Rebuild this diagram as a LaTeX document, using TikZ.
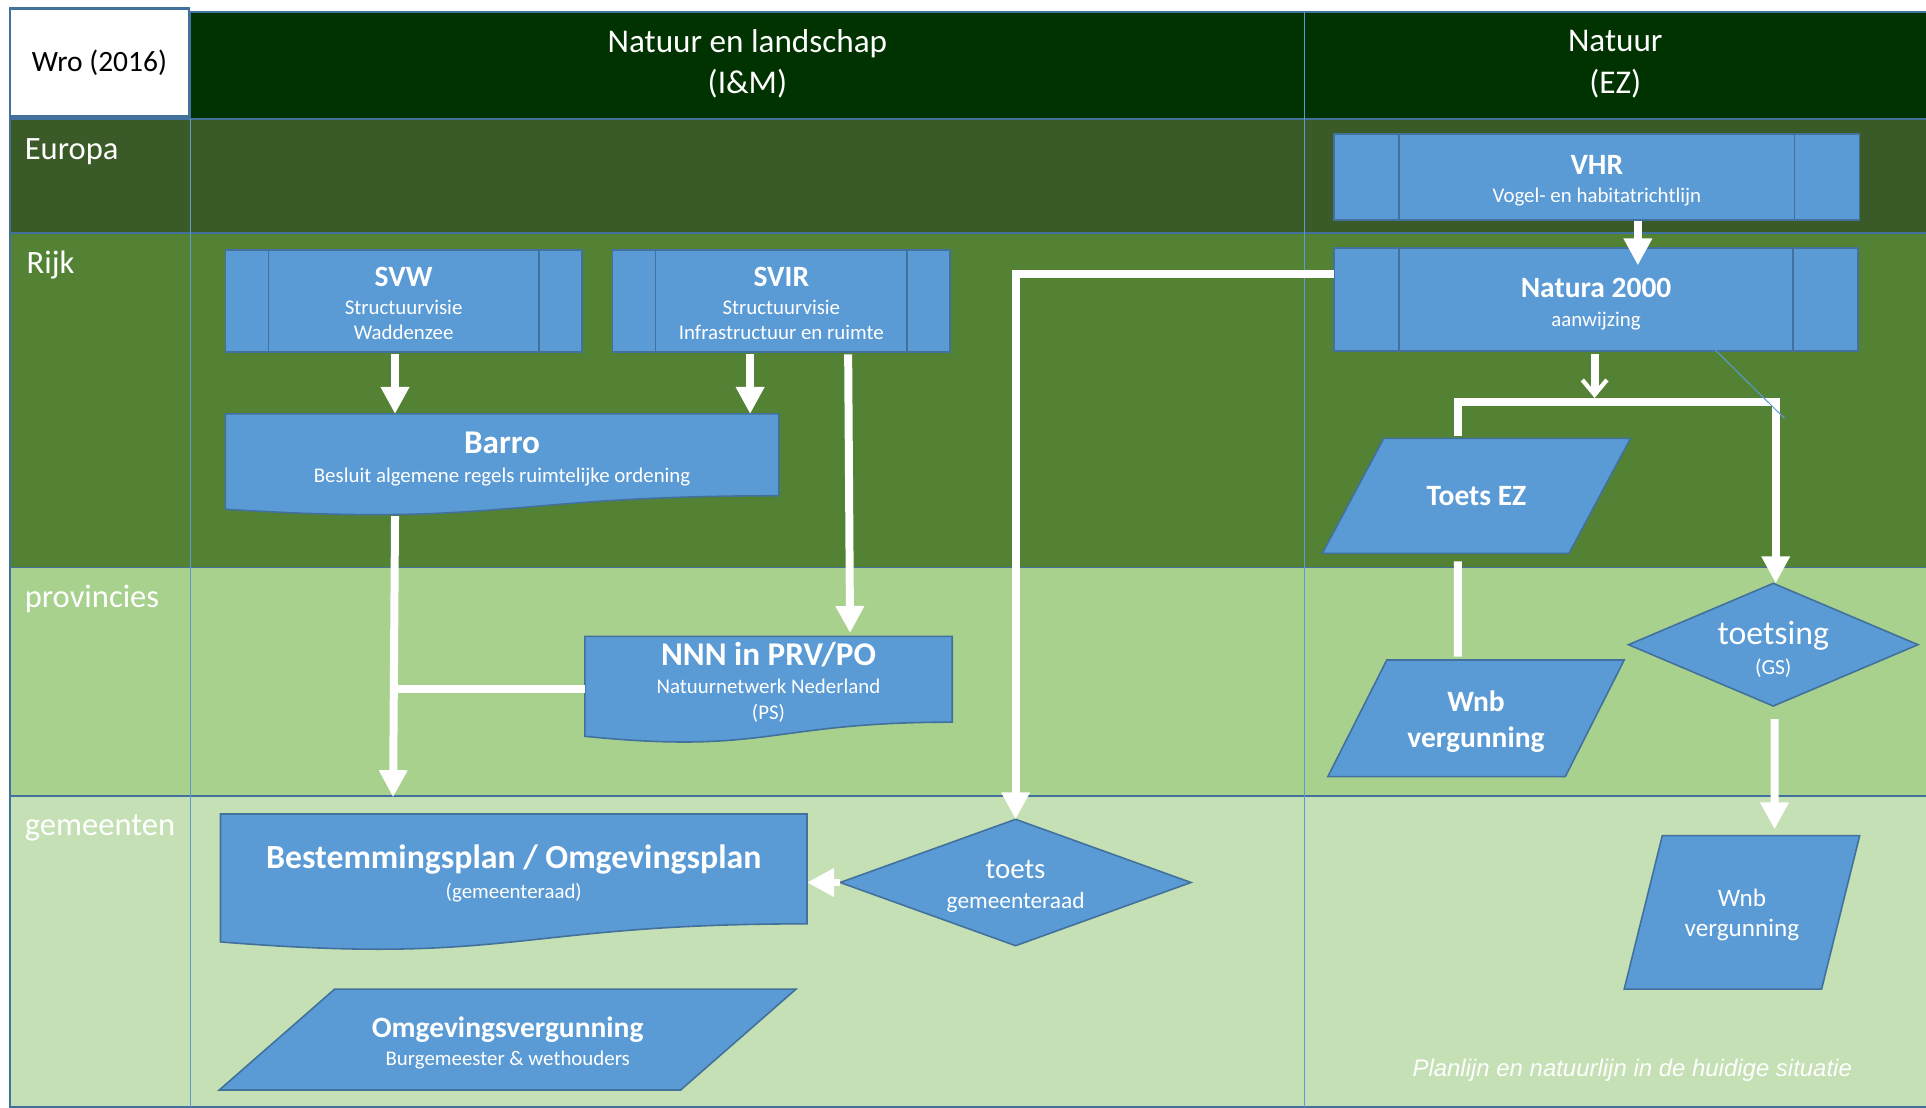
\documentclass[tikz,border=0pt]{standalone}
\usepackage{fontspec}
\setmainfont{Carlito}
\newfontfamily\capfont{Liberation Sans}
\usetikzlibrary{arrows.meta,calc}
\pgfdeclarelayer{lanes}
\pgfdeclarelayer{shapes}
\pgfsetlayers{lanes,shapes,main}
\definecolor{hdr}{HTML}{003300}
\definecolor{eur}{HTML}{3A5A27}
\definecolor{rijk}{HTML}{548235}
\definecolor{prov}{HTML}{A9D18E}
\definecolor{gem}{HTML}{C5E0B4}
\definecolor{nfill}{HTML}{5B9BD5}
\definecolor{nline}{HTML}{41719C}
\definecolor{lline}{HTML}{5B9BD5}
\newcommand\myfs[2]{\fontsize{#1}{#2}\selectfont}
\newcommand\tb[2]{\normalfont\bfseries\fontsize{#1}{#2}\selectfont}
\newcommand\tr[2]{\normalfont\fontsize{#1}{#2}\selectfont}
\newcommand\up[1]{\rule{0pt}{#1pt}}
\newcommand\mydocshape[1]{%
  \begin{pgfonlayer}{shapes}
    \filldraw[shapefill] (#1.north west) -- (#1.north east) -- (#1.south east)
      .. controls (#1.south) and ($(#1.north)!1.381!(#1.south)$)
      .. ($(#1.north west)!1.1646!(#1.south west)$) -- cycle;
  \end{pgfonlayer}}
\newcommand\myparagram[2]{%
  \begin{pgfonlayer}{shapes}
    \filldraw[shapefill] (#1.south west) -- ([xshift=#2]#1.north west) -- (#1.north east) -- ([xshift=-#2]#1.south east) -- cycle;
  \end{pgfonlayer}}
\newcommand\mydiamond[1]{%
  \begin{pgfonlayer}{shapes}
    \filldraw[shapefill] (#1.north) -- (#1.east) -- (#1.south) -- (#1.west) -- cycle;
  \end{pgfonlayer}}
\tikzset{
  band/.style={draw=nline, line width=1.5pt},
  shapefill/.style={fill=nfill, draw=nline, line width=1.3pt, line join=miter},
  predef/.style={rectangle, fill=nfill, draw=nline, line width=1.3pt, inner sep=0pt, outer sep=0pt,
    text=white, align=center,
    path picture={\draw[nline, line width=1.3pt]
      ([xshift=#1]path picture bounding box.north west) -- ([xshift=#1]path picture bounding box.south west)
      ([xshift=-#1]path picture bounding box.north east) -- ([xshift=-#1]path picture bounding box.south east);}},
  shapebox/.style={rectangle, draw=none, inner sep=0pt, outer sep=0pt, text=white, align=center},
  lanelabel/.style={anchor=base west, text=white, inner sep=0pt, font=\myfs{26.5}{32}},
  hdrtext/.style={text=white, align=center, inner sep=0pt, font=\myfs{27}{34}},
  wline/.style={draw=white, line width=6.5pt},
  arr/.style={wline, -{Triangle[length=22pt, width=22pt]}},
  barb/.style={wline, -{Straight Barb[length=12pt, width=20pt, line width=3.5pt]}},
}
\begin{document}
\begin{tikzpicture}[x=1pt,y=-1pt]
\useasboundingbox (0,0) rectangle (1568,902);
\begin{pgfonlayer}{lanes}
  \fill[white] (0,0) rectangle (1568,902);
  \filldraw[band, fill=hdr] (155,10) rectangle (1590,97);
  \filldraw[band, fill=eur] (8,97) rectangle (1590,190);
  \filldraw[band, fill=rijk] (8,190) rectangle (1590,462);
  \filldraw[band, fill=prov] (8,462) rectangle (1590,648);
  \filldraw[band, fill=gem] (8,648) rectangle (1590,901);
  \draw[lline, line width=0.8pt] (155,97) -- (155,901);
  \draw[lline, line width=0.8pt] (1062,10) -- (1062,901);
\end{pgfonlayer}

% header
\node[draw=nline, line width=2pt, fill=white, minimum width=146pt, minimum height=88pt,
  inner sep=0pt, font=\myfs{24}{29}] (wro) at (81,51) {Wro (2016)};
\node[hdrtext] (hdrIM) at (608.5,52) {Natuur en landschap\\(I\&M)};
\node[hdrtext] (hdrEZ) at (1315,52) {Natuur\\(EZ)};

% lane labels
\node[lanelabel] (lEuropa) at (20,130) {Europa};
\node[lanelabel] (lRijk) at (21.5,222.5) {Rijk};
\node[lanelabel] (lProv) at (20,494.5) {provincies};
\node[lanelabel] (lGem) at (20,680) {gemeenten};

% Europa / Rijk boxes
\node[predef=53pt, minimum width=428pt, minimum height=70pt, font=\myfs{17}{23}] (vhr) at (1300,144)
  {\tb{24}{23}\up{21.5}VHR\\\tr{17}{23}Vogel- en habitatrichtlijn};
\node[predef=53pt, minimum width=426.7pt, minimum height=83.5pt, font=\myfs{17}{23}] (natura) at (1299.4,243.8)
  {\tb{24}{23}\up{23.5}Natura 2000\\\tr{17}{23}aanwijzing};
\node[predef=35pt, minimum width=290pt, minimum height=83pt, font=\myfs{17}{20.5}] (svw) at (328.6,245)
  {\tb{24}{20.5}\up{19.5}SVW\\[2.5pt]\tr{17}{20.5}Structuurvisie\\\tr{17}{20.5}Waddenzee};
\node[predef=35pt, minimum width=275pt, minimum height=83pt, font=\myfs{17}{20.5}] (svir) at (636.1,245)
  {\tb{24}{20.5}\up{19.5}SVIR\\[2.5pt]\tr{17}{20.5}Structuurvisie\\\tr{17}{20.5}Infrastructuur en ruimte};

% document shapes
\node[shapebox, minimum width=450.5pt, minimum height=66.6pt, font=\myfs{17}{24}] (barro) at (408.75,370.3)
  {\tb{27}{24}\up{24.4}Barro\\\tr{17}{24}Besluit algemene regels ruimtelijke ordening};
\mydocshape{barro}
\node[shapebox, minimum width=299.1pt, minimum height=68.2pt, font=\myfs{17}{21}] (nnn) at (625.65,553)
  {\tb{27}{21}\up{24}NNN in PRV/PO\\[1.5pt]\tr{17}{21}Natuurnetwerk Nederland\\\tr{17}{21}(PS)};
\mydocshape{nnn}
\node[shapebox, minimum width=477.5pt, minimum height=89.4pt, font=\myfs{17}{24}] (bestem) at (418.25,707.4)
  {\tb{27.5}{24}\up{26.3}Bestemmingsplan / Omgevingsplan\\\tr{17}{24}(gemeenteraad)};
\mydocshape{bestem}

% parallelograms
\node[shapebox, minimum width=250.9pt, minimum height=93.6pt, font=\tb{24}{29}] (toetsez) at (1201.95,403.7)
  {Toets EZ};
\myparagram{toetsez}{50pt}
\node[shapebox, minimum width=241.3pt, minimum height=95pt, font=\myfs{24}{29.3}] (wnb) at (1201.65,584.8)
  {\tb{24}{29.3}\up{21.8}Wnb\\\tb{24}{29.3}vergunning};
\myparagram{wnb}{48pt}
\node[shapebox, minimum width=191.7pt, minimum height=124.9pt, font=\myfs{20.5}{25}] (wnbr) at (1418.15,742.75)
  {\tr{20.5}{25}\up{18.4}Wnb\\\tr{20.5}{25}vergunning};
\myparagram{wnbr}{31pt}
\node[shapebox, minimum width=469.6pt, minimum height=82.2pt, font=\myfs{17}{23}] (omgv) at (413.3,846.3)
  {\tb{24}{23}\up{21.8}Omgevingsvergunning\\\tr{17}{23}Burgemeester \& wethouders};
\myparagram{omgv}{94pt}

% diamonds
\node[shapebox, minimum width=235.7pt, minimum height=99.9pt, font=\myfs{17.5}{24.5}] (toetsing) at (1443.65,524.85)
  {\tr{27.5}{24.5}\up{26.4}toetsing\\\tr{17.5}{24.5}(GS)};
\mydiamond{toetsing}
\node[shapebox, minimum width=285.6pt, minimum height=102.9pt, font=\myfs{19}{24.5}] (toets) at (826.8,718.45)
  {\tr{23.5}{24.5}\up{21.1}toets\\\tr{19}{24.5}gemeenteraad};
\mydiamond{toets}

% caption
\node[font=\capfont\itshape\myfs{19.5}{23}, text=white, anchor=base, inner sep=0pt] (caption) at (1328.85,876)
  {Planlijn en natuurlijn in de huidige situatie};

% helper coordinates
\coordinate (join) at (320.8,561.2);
\coordinate (split) at (1298.2,327);
\coordinate (strayend) at (1452.8,340.6);

% connectors
\draw[arr] ([xshift=-7pt,yshift=-2pt]svw.south) -- ([xshift=-7pt]svw.south |- barro.north);
\draw[arr] ([xshift=-25.4pt,yshift=-2pt]svir.south) -- ([xshift=-25.4pt]svir.south |- barro.north);
\draw[arr] ([xshift=54.4pt,yshift=-2pt]svir.south) -- ([xshift=66.4pt,yshift=2.7pt]nnn.north);
\draw[arr] ([xshift=-87.15pt,yshift=-16.5pt]barro.south) -- ([xshift=-98.25pt,yshift=13.7pt]bestem.north);
\draw[wline] ([yshift=-8.2pt]nnn.west) -- (join);
\draw[arr] ([yshift=20.8pt]natura.west) -| (toets.north);
\draw[arr] (toets.west) -- (toets.west -| bestem.east);
\draw[arr] ([xshift=33.4pt,yshift=-1pt]vhr.south) -- ([xshift=34pt,yshift=-14pt]natura.north);
\draw[barb] ([xshift=-1.2pt,yshift=-2.5pt]natura.south) -- ([yshift=3pt]split);
\draw[arr] ([xshift=-15.15pt,yshift=2pt]toetsez.north) |- (split) -| ([xshift=2pt]toetsing.north);
\draw[wline] ([xshift=-15.15pt,yshift=-6.5pt]toetsez.south) -- ([xshift=-14.85pt,yshift=2.7pt]wnb.north);
\draw[arr] ([xshift=1pt,yshift=-10.7pt]toetsing.south) -- ([xshift=26.55pt,yshift=5.1pt]wnbr.north);
\draw[lline, line width=0.8pt] ([xshift=96.6pt,yshift=1pt]natura.south) -- (strayend);
\end{tikzpicture}
\end{document}
